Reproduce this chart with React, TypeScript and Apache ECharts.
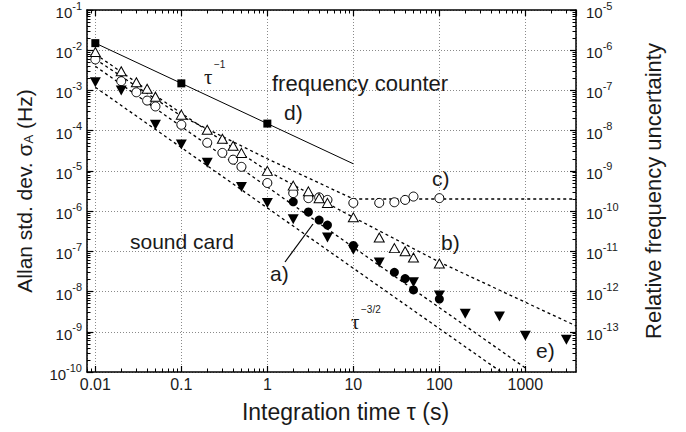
import React, { useEffect, useRef } from "react";
import * as echarts from "echarts";

// ---------- data ----------
const tauOpen = [0.01, 0.02, 0.03, 0.04, 0.05, 0.1, 0.2, 0.3, 0.4, 0.5, 1, 2, 3, 4, 5, 10, 20, 30, 40, 50, 100];
const sigmaOpenTriangle = [9e-3, 3e-3, 1.6e-3, 1.1e-3, 7e-4, 2.5e-4, 1.05e-4, 6.3e-5, 4.2e-5, 2.8e-5, 1e-5, 4.3e-6, 3.1e-6, 2.1e-6, 1.6e-6, 7e-7, 2.2e-7, 1.2e-7, 1e-7, 7e-8, 5e-8];
const sigmaOpenCircle = [5.9e-3, 1.7e-3, 9e-4, 5.6e-4, 4e-4, 1.4e-4, 5e-5, 2.8e-5, 1.9e-5, 1.26e-5, 5e-6, 2.8e-6, 2.1e-6, 2.2e-6, 1.9e-6, 1.6e-6, 1.6e-6, 1.66e-6, 1.9e-6, 2.3e-6, 2.1e-6];

const tauFilledCircle = [2, 3, 4, 5, 10, 30, 40, 50, 100];
const sigmaFilledCircle = [1.7e-6, 9.5e-7, 6e-7, 4.5e-7, 1.4e-7, 3e-8, 2.1e-8, 1.1e-8, 6.5e-9];

const tauDownTriangle = [0.01, 0.02, 0.05, 0.1, 0.2, 0.5, 1, 2, 5, 10, 20, 50, 100, 200, 500, 1000, 3000];
const sigmaDownTriangle = [1.6e-3, 1e-3, 1.4e-4, 4.5e-5, 1.6e-5, 4e-6, 1.6e-6, 6.3e-7, 2.2e-7, 1.1e-7, 5.3e-8, 1.7e-8, 8e-9, 2.8e-9, 2.4e-9, 8e-10, 6.3e-10];

const tauCounter = [0.01, 0.1, 1];
const sigmaCounter = [1.5e-2, 1.5e-3, 1.5e-4];
const tauCounterLine = [0.01, 10];
const sigmaCounterLine = [1.5e-2, 1.5e-5];

// dashed guide curves, read at a few points
const tauCurveA = [0.01, 1000];
const sigmaCurveA = [4e-3, 1.26e-10];
const tauCurveB = [0.01, 0.1, 1, 10, 100, 3880];
const sigmaCurveB = [8e-3, 2.7e-4, 1e-5, 7e-7, 5.4e-8, 1.4e-9];
const tauCurveC = [0.01, 0.1, 1, 10, 3880];
const sigmaCurveC = [6e-3, 2.3e-4, 2e-5, 2e-6, 2e-6];
const tauCurveE = [0.01, 524];
const sigmaCurveE = [1.2e-3, 1e-10];

// axes
const xMin = 0.008;
const xMax = 3880;
const yMin = 1e-10;
const yMax = 1e-1;
const relMin = 1e-14;
const relMax = 1e-5;
const xDecades = [0.001, 0.01, 0.1, 1, 10, 100, 1000];
const yDecades = [1e-15, 1e-14, 1e-13, 1e-12, 1e-11, 1e-10, 1e-9, 1e-8, 1e-7, 1e-6, 1e-5, 1e-4, 1e-3, 1e-2, 1e-1];
const minorMultipliers = [2, 3, 4, 5, 6, 7, 8, 9];

const FONT = "'Liberation Sans', Arial, Helvetica, sans-serif";
const SERIF = "'Liberation Serif', 'DejaVu Serif', serif";
const INK = "#1a1a1a";

const pairs = (xs: number[], ys: number[]) => xs.map((x, i) => [x, ys[i]]);
// minor tick positions, expressed in log10 units for the overlay tick axes
const minorLogOf = (decades: number[]) => {
  const out: number[] = [];
  decades.forEach((d) => minorMultipliers.forEach((m) => out.push(Math.log10(d * m))));
  return out;
};

const supRich = {
  b: { fontSize: 15, fontFamily: FONT, color: INK, lineHeight: 20, verticalAlign: "bottom" },
  s: { fontSize: 11, fontFamily: FONT, color: INK, lineHeight: 12, verticalAlign: "top" },
};
const powLabel = (v: number) => `{b|10}{s|${Math.round(Math.log10(v))}}`;

export default function App() {
  const ref = useRef<HTMLDivElement>(null);
  useEffect(() => {
    if (!ref.current) return;
    const chart = echarts.init(ref.current, undefined, { renderer: "svg" });
    const axisLine = { show: true, onZero: false, lineStyle: { color: "#000", width: 1.5 } };
    const majorTick = { show: true, inside: true, length: 6, lineStyle: { color: "#000", width: 1.2 } };
    const minorTickX = { show: true, inside: true, length: 3.5, customValues: minorLogOf(xDecades), lineStyle: { color: "#000", width: 1 } };
    const minorTickY = { show: true, inside: true, length: 3.5, customValues: minorLogOf(yDecades), lineStyle: { color: "#000", width: 1 } };
    const dashed = { color: "#000", width: 1.3, type: [3, 3] as any };
    const hiddenParts = { axisLine: { show: false, onZero: false }, axisLabel: { show: false }, splitLine: { show: false } };
    const option: any = {
      animation: false,
      backgroundColor: "#fff",
      grid: { left: 87, right: 110, top: 10, bottom: 60, containLabel: false },
      xAxis: [
        {
          type: "log", position: "bottom", min: xMin, max: xMax, logBase: 10, splitNumber: 5,
          axisLine, axisTick: majorTick,
          axisLabel: {
            show: true, margin: 4, fontSize: 16, fontFamily: FONT, color: INK,
            showMinLabel: false, showMaxLabel: false,
            formatter: (v: number) => String(+v.toPrecision(6)),
          },
          splitLine: { show: true, lineStyle: { color: "#8a8a8a", width: 1, type: [1, 2] } },
          name: "Integration time τ (s)", nameLocation: "middle", nameGap: 28,
          nameTextStyle: { fontSize: 23, fontFamily: FONT, color: INK, padding: [0, 0, 0, 28] },
        },
        { type: "log", position: "top", min: xMin, max: xMax, splitNumber: 5, axisLine, axisTick: majorTick, axisLabel: { show: false }, splitLine: { show: false } },
        { type: "value", position: "bottom", min: Math.log10(xMin), max: Math.log10(xMax), axisTick: minorTickX, ...hiddenParts },
        { type: "value", position: "top", min: Math.log10(xMin), max: Math.log10(xMax), axisTick: minorTickX, ...hiddenParts },
      ],
      yAxis: [
        {
          type: "log", position: "left", min: yMin, max: yMax, splitNumber: 9,
          axisLine, axisTick: majorTick,
          axisLabel: { show: true, margin: 5, formatter: powLabel, rich: supRich },
          splitLine: { show: true, lineStyle: { color: "#8a8a8a", width: 1, type: [1, 2] } },
          name: "{n|Allan std. dev. σ}{sub|A}{n| (Hz)}", nameLocation: "middle", nameGap: 52, nameRotate: 90,
          nameTextStyle: {
            rich: {
              n: { fontSize: 21, fontFamily: FONT, color: INK, lineHeight: 25, verticalAlign: "bottom" },
              sub: { fontSize: 13, fontFamily: FONT, color: INK, lineHeight: 25, verticalAlign: "bottom" },
            },
          },
        },
        {
          type: "log", position: "right", min: relMin, max: relMax, splitNumber: 9,
          axisLine, axisTick: majorTick,
          axisLabel: { show: true, margin: 10, showMinLabel: false, formatter: powLabel, rich: supRich },
          splitLine: { show: false },
          name: "Relative frequency uncertainty", nameLocation: "middle", nameGap: 66, nameRotate: 90,
          nameTextStyle: { fontSize: 22, fontFamily: FONT, color: INK },
        },
        { type: "value", position: "left", min: Math.log10(yMin), max: Math.log10(yMax), axisTick: minorTickY, ...hiddenParts },
        { type: "value", position: "right", min: Math.log10(relMin), max: Math.log10(relMax), axisTick: minorTickY, ...hiddenParts },
      ],
      series: [
        { type: "line", name: "a", data: pairs(tauCurveA, sigmaCurveA), symbol: "none", lineStyle: dashed, z: 2 },
        { type: "line", name: "b", data: pairs(tauCurveB, sigmaCurveB), symbol: "none", lineStyle: dashed, z: 2 },
        { type: "line", name: "c", data: pairs(tauCurveC, sigmaCurveC), symbol: "none", lineStyle: dashed, z: 2 },
        { type: "line", name: "e", data: pairs(tauCurveE, sigmaCurveE), symbol: "none", lineStyle: dashed, z: 2 },
        { type: "line", name: "d", data: pairs(tauCounterLine, sigmaCounterLine), symbol: "none", lineStyle: { color: "#000", width: 1 }, z: 2 },
        { type: "scatter", name: "open circle", data: pairs(tauOpen, sigmaOpenCircle), symbol: "circle", symbolSize: 9, itemStyle: { color: "#fff", borderColor: "#000", borderWidth: 1, opacity: 1 }, z: 3 },
        { type: "scatter", name: "open triangle", data: pairs(tauOpen, sigmaOpenTriangle), symbol: "triangle", symbolSize: [10, 9], itemStyle: { color: "#fff", borderColor: "#000", borderWidth: 1, opacity: 1 }, z: 4 },
        { type: "scatter", name: "filled circle", data: pairs(tauFilledCircle, sigmaFilledCircle), symbol: "circle", symbolSize: 9, itemStyle: { color: "#000", opacity: 1 }, z: 5 },
        { type: "scatter", name: "down triangle", data: pairs(tauDownTriangle, sigmaDownTriangle), symbol: "triangle", symbolRotate: 180, symbolSize: [11, 10], itemStyle: { color: "#000", opacity: 1 }, z: 5 },
        { type: "scatter", name: "counter", data: pairs(tauCounter, sigmaCounter), symbol: "rect", symbolSize: 8, itemStyle: { color: "#000", opacity: 1 }, z: 5 },
      ],
      graphic: [
        { type: "text", left: 272, top: 72, style: { text: "frequency counter", fontSize: 22, fontFamily: FONT, fill: INK } },
        { type: "text", left: 284, top: 102, style: { text: "d)", fontSize: 21, fontFamily: FONT, fill: INK } },
        { type: "text", left: 432, top: 168, style: { text: "c)", fontSize: 21, fontFamily: FONT, fill: INK } },
        { type: "text", left: 441, top: 232, style: { text: "b)", fontSize: 21, fontFamily: FONT, fill: INK } },
        { type: "text", left: 270, top: 263, style: { text: "a)", fontSize: 21, fontFamily: FONT, fill: INK } },
        { type: "text", left: 536, top: 340, style: { text: "e)", fontSize: 21, fontFamily: FONT, fill: INK } },
        { type: "text", left: 130, top: 231, style: { text: "sound card", fontSize: 21, fontFamily: FONT, fill: INK } },
        { type: "text", left: 204, top: 66, style: { text: "τ", fontSize: 21, fontFamily: SERIF, fill: INK } },
        { type: "text", left: 214, top: 59, style: { text: "−1", fontSize: 10, fontFamily: FONT, fill: INK } },
        { type: "text", left: 351, top: 311, style: { text: "τ", fontSize: 21, fontFamily: SERIF, fill: INK } },
        { type: "text", left: 361, top: 304, style: { text: "−3/2", fontSize: 10, fontFamily: FONT, fill: INK } },
        { type: "line", shape: { x1: 285, y1: 262, x2: 313, y2: 224 }, style: { stroke: "#000", lineWidth: 1.2 } },
      ],
    };
    chart.setOption(option);
    return () => chart.dispose();
  }, []);
  return (
    <div
      ref={ref}
      style={{ position: "fixed", left: 0, top: 0, width: 686, height: 432, background: "#fff" }}
    />
  );
}
